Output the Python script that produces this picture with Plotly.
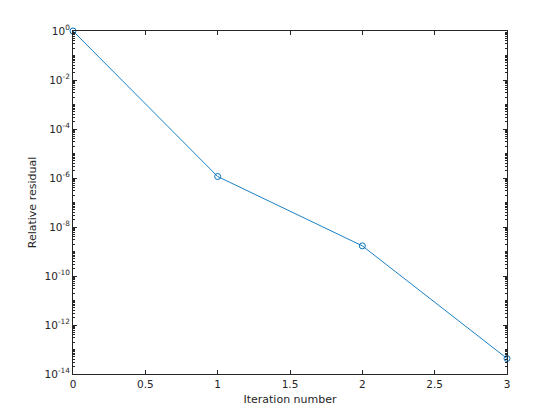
import plotly.graph_objects as go

iterations = [0, 1, 2, 3]
residuals = [1.0, 1.15e-6, 1.7e-9, 4.3e-14]

y_exponents = [0, -2, -4, -6, -8, -10, -12, -14]
y_tickvals = [10.0 ** e for e in y_exponents]
y_ticktext = ["10<sup>%d</sup>" % e for e in y_exponents]
x_tickvals = [0, 0.5, 1, 1.5, 2, 2.5, 3]
x_ticktext = ["0", "0.5", "1", "1.5", "2", "2.5", "3"]

blue = "#0072BD"
axis_col = "#262626"

fig = go.Figure()
fig.add_trace(go.Scatter(
    x=iterations, y=residuals, mode="lines+markers",
    line=dict(color=blue, width=0.9),
    marker=dict(symbol="circle-open", size=6, color=blue, line=dict(width=1, color=blue)),
    cliponaxis=False,
    showlegend=False,
))

font = dict(family="DejaVu Sans", size=10.5, color=axis_col)
title_font = dict(family="DejaVu Sans", size=11, color=axis_col)

fig.update_layout(
    width=552, height=412,
    margin=dict(l=65, r=53, t=23, b=46, autoexpand=False),
    paper_bgcolor="white", plot_bgcolor="white",
    font=font,
    xaxis=dict(
        range=[0, 3], tickvals=x_tickvals, ticktext=x_ticktext,
        ticks="inside", ticklen=4, tickcolor=axis_col, tickwidth=1,
        showline=True, linecolor=axis_col, linewidth=1, mirror="ticks",
        showgrid=False, zeroline=False, automargin=False,
        title=dict(text="Iteration number", font=title_font, standoff=6),
        tickfont=font,
    ),
    yaxis=dict(
        type="log", range=[-14, 0], tickvals=y_tickvals, ticktext=y_ticktext,
        ticks="inside", ticklen=4, tickcolor=axis_col, tickwidth=1,
        showline=True, linecolor=axis_col, linewidth=1, mirror="ticks",
        showgrid=False, zeroline=False, automargin=False,
        minor=dict(ticks="inside", ticklen=2, tickcolor=axis_col, dtick="D1", showgrid=False),
        title=dict(text="Relative residual", font=title_font, standoff=5),
        tickfont=font,
    ),
)

fig.write_html("out.html")
